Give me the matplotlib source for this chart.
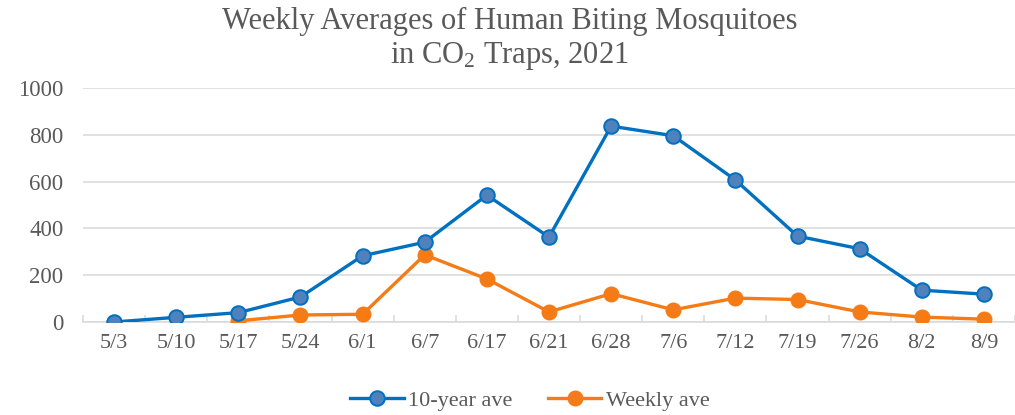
import numpy as np
import matplotlib
matplotlib.use('Agg')
import matplotlib.pyplot as plt

plt.rcParams['font.family'] = ['Liberation Serif', 'DejaVu Serif']
plt.rcParams['mathtext.fontset'] = 'custom'
plt.rcParams['mathtext.rm'] = 'Liberation Serif'
plt.rcParams['mathtext.it'] = 'Liberation Serif:italic'

# ===== data =====
weeks = ['5/3', '5/10', '5/17', '5/24', '6/1', '6/7', '6/17', '6/21',
         '6/28', '7/6', '7/12', '7/19', '7/26', '8/2', '8/9']
ten_year = [0, 20, 40, 107, 283, 341, 542, 363, 837, 796, 607, 367, 313, 136, 119]
weekly = [np.nan, np.nan, 5, 30, 33, 287, 184, 43, 121, 52, 102, 96, 43, 21, 12]

TEXT = '#595959'
GRID = '#d9d9d9'
BLUE = '#0070C0'
BLUE_FACE = '#4F81BD'
ORANGE = '#F47B16'

fig = plt.figure(figsize=(10.15, 4.15), dpi=100)
ax = fig.add_axes([83 / 1015, 1 - 322 / 415, 1 - 83 / 1015, (322 - 88) / 415])

x = np.arange(len(weeks))
ax.plot(x, ten_year, '-o', color=BLUE, lw=2.4, markersize=10.5,
        markerfacecolor=BLUE_FACE, markeredgecolor=BLUE, markeredgewidth=1.4,
        label='10-year ave', zorder=4)
ax.plot(x, weekly, '-o', color=ORANGE, lw=2.4, markersize=10.5,
        markerfacecolor=ORANGE, markeredgecolor=ORANGE,
        label='Weekly ave', zorder=3)

ax.set_xlim(-0.5, len(weeks) - 0.5)
ax.set_ylim(0, 1000)
ax.set_yticks(range(0, 1001, 200))
ax.set_xticks(x)
ax.set_xticklabels(weeks)
ax.set_xticks(np.arange(-0.5, len(weeks), 1), minor=True)

ax.grid(axis='y', color=GRID, lw=1.1)
ax.set_axisbelow(True)
for s in ['left', 'right', 'top']:
    ax.spines[s].set_visible(False)
ax.spines['bottom'].set_color(GRID)
ax.spines['bottom'].set_linewidth(1.1)

ax.tick_params(axis='y', length=0, labelsize=16.5, labelcolor=TEXT, pad=14)
ax.tick_params(axis='x', which='major', length=0, labelsize=16, labelcolor=TEXT, pad=9)
ax.tick_params(axis='x', which='minor', direction='in', length=5, color=GRID, width=1.1)

fig.text(0.502, 0.948, 'Weekly Averages of Human Biting Mosquitoes',
         ha='center', va='center', fontsize=22, color=TEXT)
fig.text(0.502, 0.865, 'in CO$_2$ Traps, 2021',
         ha='center', va='center', fontsize=22, color=TEXT)

fig.legend(loc='center', bbox_to_anchor=(0.522, 0.035), ncol=2, frameon=False,
           fontsize=16, labelcolor=TEXT, handlelength=2.4, columnspacing=1.6,
           handletextpad=0.2)

fig.savefig('out.png', dpi=100)
